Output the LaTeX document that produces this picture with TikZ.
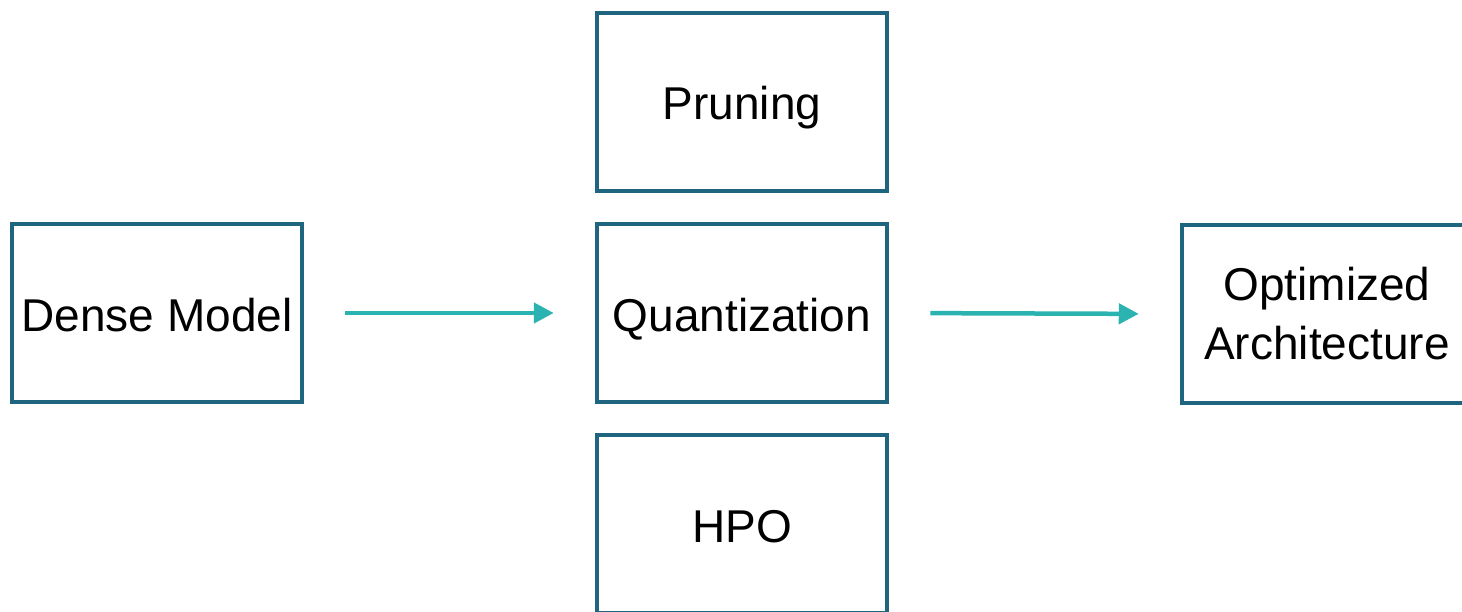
\documentclass[tikz,border=0pt]{standalone}
\usepackage{fontspec}
\setmainfont{Liberation Sans}
\usetikzlibrary{arrows.meta}
\definecolor{boxline}{HTML}{1F6580}
\definecolor{flow}{HTML}{2BB3B1}
\begin{document}
\begin{tikzpicture}[x=1pt,y=-1pt,
  stagebox/.style={draw=boxline, line width=4.5pt, fill=white,
    minimum width=290pt, minimum height=178pt, inner sep=0pt,
    align=center, font=\fontsize{46}{59}\selectfont},
  oneline/.style={stagebox, text height=36pt, text depth=0pt},
  flowarrow/.style={draw=flow, line width=4.5pt,
    -{Triangle[length=20pt,width=20pt]},
    shorten <=41pt, shorten >=41pt}]
  \useasboundingbox (0,0) rectangle (1462,612);
  \clip (0,0) rectangle (1462,612);
  \fill[white] (0,0) rectangle (1462,612);

  \node[oneline] (dense) at (157,313) {Dense Model};
  \node[oneline] (prune) at (742,102) {Pruning};
  \node[oneline] (quant) at (742,313) {Quantization};
  \node[oneline] (hpo)   at (742,524) {HPO};
  \node[stagebox] (opt)  at (1327,314) {Optimized\\Architecture};

  \draw[flowarrow] (dense.east) -- (quant.west);
  \draw[flowarrow] (quant.east) -- (opt.west);
\end{tikzpicture}
\end{document}
